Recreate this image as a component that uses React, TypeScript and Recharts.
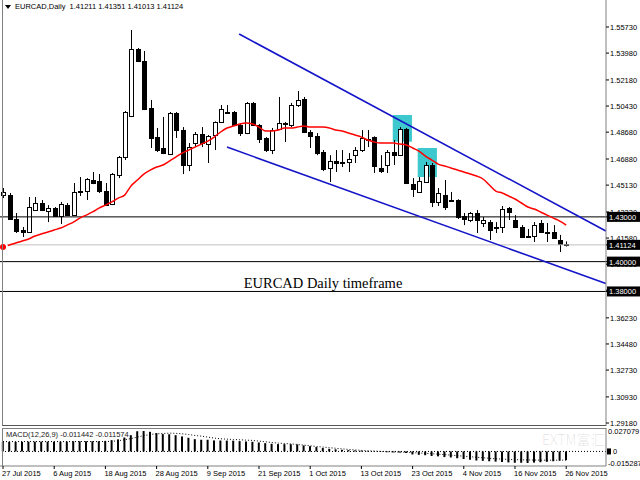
import React from 'react';
import {
  ComposedChart,
  Bar,
  Line,
  XAxis,
  YAxis,
  ReferenceLine,
  ReferenceArea,
  ReferenceDot
} from 'recharts';

const FONT = 'Tahoma, "Liberation Sans", Arial, sans-serif';

// EURCAD daily candles, 27 Jul 2015 .. 26 Nov 2015
const opens = [
  1.4446, 1.4446, 1.4286, 1.4212, 1.4199, 1.4346, 1.4393, 1.4339, 1.4359, 1.4306,
  1.4379, 1.4312, 1.4467, 1.4473, 1.4547, 1.454, 1.4473, 1.4386, 1.4581, 1.4701,
  1.4976, 1.5425, 1.5345, 1.503, 1.4835, 1.4762, 1.4721, 1.4996, 1.4882, 1.4648,
  1.4795, 1.4855, 1.4788, 1.4849, 1.4936, 1.5003, 1.5003, 1.4916, 1.4862, 1.5064,
  1.4916, 1.4829, 1.4748, 1.4889, 1.4929, 1.4916, 1.505, 1.509, 1.4869, 1.4842,
  1.4735, 1.4628, 1.4674, 1.4668, 1.4668, 1.4714, 1.4748, 1.4822, 1.4835, 1.4628,
  1.4648, 1.4735, 1.4714, 1.4889, 1.452, 1.4467, 1.4534, 1.4648, 1.44, 1.4446,
  1.4413, 1.4413, 1.4306, 1.4279, 1.4326, 1.4259, 1.4265, 1.4232, 1.4232, 1.4359,
  1.4279, 1.4232, 1.4172, 1.4172, 1.4259, 1.4199, 1.4199, 1.4145, 1.41211
];
const highs = [
  1.4493, 1.446, 1.4326, 1.4232, 1.4433, 1.4433, 1.4413, 1.4379, 1.4366, 1.44,
  1.4393, 1.4527, 1.4567, 1.456, 1.4601, 1.4587, 1.4527, 1.4594, 1.4708, 1.501,
  1.5553, 1.5432, 1.5412, 1.5084, 1.4896, 1.497, 1.5003, 1.5003, 1.4902, 1.4795,
  1.4869, 1.4902, 1.4849, 1.494, 1.505, 1.505, 1.501, 1.4929, 1.507, 1.507,
  1.4922, 1.4835, 1.4896, 1.5104, 1.4936, 1.5064, 1.5144, 1.5104, 1.4882, 1.4862,
  1.4748, 1.4714, 1.4748, 1.4748, 1.4728, 1.4768, 1.4882, 1.4882, 1.484, 1.4714,
  1.4748, 1.4815, 1.4902, 1.4896, 1.456, 1.4567, 1.4668, 1.4661, 1.4493, 1.4547,
  1.4467, 1.4418, 1.4326, 1.4333, 1.4346, 1.4299, 1.4279, 1.4265, 1.4373, 1.4366,
  1.4312, 1.4245, 1.4219, 1.4265, 1.4279, 1.4259, 1.4245, 1.4179, 1.41351
];
const lows = [
  1.4426, 1.4279, 1.4192, 1.4165, 1.4192, 1.4339, 1.4339, 1.4265, 1.4299, 1.4252,
  1.4306, 1.4306, 1.444, 1.4413, 1.452, 1.446, 1.4373, 1.4379, 1.456, 1.4681,
  1.4969, 1.5338, 1.5016, 1.4762, 1.4735, 1.4721, 1.4714, 1.4829, 1.4587, 1.4607,
  1.4768, 1.4768, 1.4661, 1.4748, 1.4929, 1.499, 1.4909, 1.4842, 1.4855, 1.4909,
  1.4795, 1.4735, 1.4721, 1.4882, 1.4802, 1.4902, 1.5037, 1.4862, 1.4762, 1.4714,
  1.4607, 1.4534, 1.4601, 1.4634, 1.4601, 1.4661, 1.4735, 1.4768, 1.4594, 1.4594,
  1.4594, 1.4648, 1.4708, 1.452, 1.4433, 1.446, 1.4527, 1.4366, 1.4373, 1.4346,
  1.44, 1.4286, 1.4245, 1.4265, 1.4192, 1.4232, 1.4145, 1.4192, 1.4192, 1.4279,
  1.4225, 1.4158, 1.4158, 1.4132, 1.4192, 1.4132, 1.4152, 1.4064, 1.41013
];
const closes = [
  1.4467, 1.4286, 1.4205, 1.4199, 1.4366, 1.4393, 1.4346, 1.4359, 1.4306, 1.4386,
  1.4312, 1.4467, 1.4473, 1.4554, 1.4527, 1.4473, 1.4379, 1.4587, 1.4701, 1.5004,
  1.5425, 1.5345, 1.5023, 1.4829, 1.4748, 1.4728, 1.4996, 1.4882, 1.4648, 1.4768,
  1.4855, 1.4795, 1.4842, 1.4936, 1.5023, 1.4996, 1.4916, 1.4862, 1.5064, 1.4916,
  1.4822, 1.4748, 1.4882, 1.4929, 1.4923, 1.505, 1.5084, 1.4869, 1.4842, 1.4728,
  1.4621, 1.4674, 1.4661, 1.4661, 1.4688, 1.4748, 1.4829, 1.4815, 1.4641, 1.4607,
  1.4735, 1.4714, 1.4889, 1.4527, 1.4487, 1.454, 1.4648, 1.44, 1.446, 1.4366,
  1.4406, 1.4299, 1.4286, 1.4326, 1.4279, 1.4279, 1.4212, 1.4225, 1.4353, 1.4333,
  1.4232, 1.4165, 1.4165, 1.4245, 1.4199, 1.4192, 1.4158, 1.4121, 1.41124
];
const movingAvg = [
  1.4098, 1.4111, 1.4125, 1.4138, 1.4152, 1.4172, 1.4185, 1.4199, 1.4212, 1.4225,
  1.4245, 1.4265, 1.4292, 1.4312, 1.4333, 1.4359, 1.4379, 1.44, 1.4426, 1.4446,
  1.4507, 1.4547, 1.4587, 1.4614, 1.4634, 1.4648, 1.4674, 1.4701, 1.4728, 1.4748,
  1.4768, 1.4788, 1.4808, 1.4835, 1.4869, 1.4896, 1.4909, 1.4923, 1.4929, 1.4923,
  1.4902, 1.4876, 1.4876, 1.4882, 1.4896, 1.4896, 1.4902, 1.4909, 1.4902, 1.4902,
  1.4902, 1.4896, 1.4882, 1.4876, 1.4862, 1.4849, 1.4835, 1.4815, 1.4802, 1.4795,
  1.4795, 1.4795, 1.4788, 1.4782, 1.4762, 1.4741, 1.4708, 1.4681, 1.4654, 1.4641,
  1.4628, 1.4614, 1.4601, 1.4587, 1.4574, 1.4554, 1.4514, 1.4473, 1.446, 1.444,
  1.442, 1.4393, 1.4366, 1.4353, 1.4333, 1.4312, 1.4292, 1.4272, 1.4245
];
const macdMain = [
  0.0128, 0.0128, 0.0128, 0.0128, 0.013, 0.013, 0.013, 0.013, 0.013, 0.013,
  0.013, 0.0135, 0.0135, 0.0135, 0.0135, 0.0135, 0.014, 0.015, 0.016, 0.0185,
  0.0216, 0.0268, 0.027079, 0.026, 0.0243, 0.023, 0.0228, 0.0216, 0.0199, 0.0181,
  0.0163, 0.0155, 0.0155, 0.0146, 0.0145, 0.0144, 0.0143, 0.0137, 0.0132, 0.0128,
  0.0119, 0.011, 0.0102, 0.0097, 0.0097, 0.0096, 0.0093, 0.008, 0.007, 0.0058,
  0.0045, 0.0035, 0.0028, 0.0022, 0.0018, 0.0014, 0.001, 0.0006, 0.0002, -0.0005,
  -0.001, -0.0013, -0.0015, -0.002, -0.004, -0.0045, -0.005, -0.006, -0.0065, -0.0075,
  -0.008, -0.009, -0.01, -0.011, -0.012, -0.0125, -0.013, -0.0135, -0.014, -0.0145,
  -0.015, -0.015, -0.015287, -0.0148, -0.0143, -0.0138, -0.013, -0.0122, -0.011442
];
const macdSignal = [
  0.0131, 0.0131, 0.0131, 0.0131, 0.0131, 0.0131, 0.0131, 0.0131, 0.0131, 0.0131,
  0.0131, 0.0131, 0.0131, 0.0131, 0.0131, 0.0131, 0.0132, 0.0134, 0.0142, 0.0155,
  0.017, 0.019, 0.021, 0.0225, 0.0234, 0.0238, 0.0243, 0.024, 0.0234, 0.0225,
  0.0212, 0.0203, 0.019, 0.0177, 0.0168, 0.0163, 0.0159, 0.0155, 0.015, 0.0146,
  0.0137, 0.0128, 0.0119, 0.011, 0.0105, 0.01, 0.0093, 0.0084, 0.0075, 0.0066,
  0.0058, 0.005, 0.0042, 0.0034, 0.0027, 0.002, 0.0014, 0.0009, 0.0005, 0.0001,
  -0.0003, -0.0006, -0.0009, -0.0012, -0.0016, -0.002, -0.0025, -0.003, -0.0036, -0.0042,
  -0.0049, -0.0056, -0.0063, -0.007, -0.0077, -0.0084, -0.0091, -0.0097, -0.0102, -0.0106,
  -0.0109, -0.0111, -0.0113, -0.0114, -0.0115, -0.0116, -0.0116, -0.0116, -0.011574
];

const priceTicks = [
  1.5573, 1.5398, 1.5218, 1.5043, 1.4868, 1.4688, 1.4513, 1.4333,
  1.4158, 1.3983, 1.3808, 1.3623, 1.3448, 1.3273, 1.3093, 1.2918
];
const macdTicks = [0.027079, 0, -0.015287];
const dateTicks = [0, 8, 16, 24, 32, 40, 48, 56, 64, 72, 80, 88];
const dateLabels = [
  '27 Jul 2015', '6 Aug 2015', '18 Aug 2015', '28 Aug 2015', '9 Sep 2015', '21 Sep 2015',
  '1 Oct 2015', '13 Oct 2015', '23 Oct 2015', '4 Nov 2015', '16 Nov 2015', '26 Nov 2015'
];

const levels = [
  { value: 1.43, color: '#000', text: '1.43000' },
  { value: 1.41124, color: '#c0c0c0', text: '1.41124' },
  { value: 1.4, color: '#000', text: '1.40000' },
  { value: 1.38, color: '#000', text: '1.38000' }
];
const channelUpper = [{ x: 36.9, y: 1.5526 }, { x: 94.2, y: 1.4205 }];
const channelLower = [{ x: 35, y: 1.4768 }, { x: 94.2, y: 1.3853 }];
const boxes = [
  { x1: 60.9, x2: 63.9, y1: 1.4804, y2: 1.4983 },
  { x1: 64.8, x2: 67.8, y1: 1.4567, y2: 1.4762 }
];

const xDomain = [-0.47, 94.22];
// level tags come last so they are painted over the normal price labels
const axisTicks = [...priceTicks, ...levels.map((l) => l.value)];

const rows = opens.map((o, i) => ({
  i,
  open: o,
  high: highs[i],
  low: lows[i],
  close: closes[i],
  ma: movingAvg[i],
  macd: macdMain[i],
  signal: macdSignal[i]
}));

function Candle(props: any) {
  const { x, y, width, height, payload } = props;
  if (!payload || payload.open == null) return null;
  const { open, high, low, close } = payload;
  const top = Math.min(y, y + height);
  const h = Math.abs(height);
  const span = high - low || 1;
  const py = (v: number) => top + ((high - v) / span) * h;
  const cx = Math.round(x + width / 2) + 0.5;
  const bodyTop = Math.round(py(Math.max(open, close))) + 0.5;
  const bodyBot = Math.round(py(Math.min(open, close))) + 0.5;
  const up = close >= open;
  return (
    <g>
      <line x1={cx} x2={cx} y1={top} y2={top + h} stroke='#000' strokeWidth={1} />
      <rect
        x={cx - 2}
        y={bodyTop}
        width={4}
        height={Math.max(bodyBot - bodyTop, 0.01)}
        fill={up ? '#fff' : '#000'}
        stroke='#000'
        strokeWidth={1}
      />
    </g>
  );
}

function PriceTick({ x, y, payload }: any) {
  const lvl = levels.find((l) => l.value === payload.value);
  if (lvl) {
    return (
      <g>
        <rect x={x - 3} y={y - 5} width={33} height={10} fill='#000' />
        <text x={x - 1} y={y + 3} fontSize={7.5} fill='#fff' fontFamily={FONT}>
          {lvl.text}
        </text>
      </g>
    );
  }
  return (
    <text x={x} y={y + 3} fontSize={7.5} fill='#000' fontFamily={FONT}>
      {payload.value.toFixed(5)}
    </text>
  );
}

function MacdTick({ x, y, payload }: any) {
  const v = payload.value;
  return (
    <text x={v === 0 ? x + 5 : x} y={y + 3} fontSize={7.5} fill='#000' fontFamily={FONT}>
      {v === 0 ? '0' : v.toFixed(6)}
    </text>
  );
}

function ZeroMark({ viewBox }: any) {
  if (!viewBox) return null;
  const x = viewBox.x + viewBox.width;
  return <rect x={x + 1} y={viewBox.y - 3} width={4} height={6} fill='#000' />;
}

function DateTick({ x, y, payload }: any) {
  const idx = dateTicks.indexOf(payload.value);
  return (
    <text x={x - 1} y={y + 7} fontSize={7.5} fill='#000' fontFamily={FONT}>
      {dateLabels[idx]}
    </text>
  );
}

function Caption({ cx, cy }: any) {
  return (
    <text
      x={cx}
      y={cy + 5}
      textAnchor='middle'
      fontSize={14.5}
      fill='#000'
      fontFamily='"Liberation Serif", "Times New Roman", serif'
    >
      EURCAD Daily timeframe
    </text>
  );
}

export default function App() {
  return (
    <div
      style={{
        position: 'absolute',
        left: 0,
        top: 0,
        width: 640,
        height: 480,
        background: '#fff',
        overflow: 'hidden'
      }}
    >
      <style>{'.mt-chart svg { overflow: visible; }'}</style>
      <div className='mt-chart' style={{ position: 'absolute', left: 0, top: 0, zIndex: 2 }}>
        <ComposedChart
          width={640}
          height={426}
          data={rows}
          margin={{ top: 0, right: 0, bottom: 0, left: 0 }}
        >
          <XAxis type='number' dataKey='i' domain={xDomain} allowDataOverflow hide />
          <YAxis
            orientation='right'
            width={34}
            domain={[1.2898, 1.5754]}
            allowDataOverflow
            ticks={axisTicks}
            interval={0}
            tick={<PriceTick />}
            tickSize={3}
            tickMargin={1}
            tickLine={{ stroke: '#000' }}
            axisLine={{ stroke: '#808080' }}
          />
          {boxes.map((b, k) => (
            <ReferenceArea
              key={'box' + k}
              x1={b.x1}
              x2={b.x2}
              y1={b.y1}
              y2={b.y2}
              fill='#3cc8cc'
              fillOpacity={1}
              stroke='none'
            />
          ))}
          {levels.map((l) => (
            <ReferenceLine key={l.text} y={l.value} stroke={l.color} strokeWidth={1} />
          ))}
          <ReferenceLine segment={channelUpper} stroke='#1414c8' strokeWidth={1.6} />
          <ReferenceLine segment={channelLower} stroke='#1414c8' strokeWidth={1.6} />
          <Bar
            dataKey={(d: any) => [d.low, d.high]}
            barSize={5}
            shape={(p: any) => <Candle {...p} />}
            isAnimationActive={false}
          />
          <Line
            type='monotone'
            dataKey='ma'
            stroke='#ff0000'
            strokeWidth={1.5}
            dot={false}
            isAnimationActive={false}
          />
          <ReferenceDot x={50} y={1.3857} r={0} shape={(p: any) => <Caption {...p} />} />
        </ComposedChart>
      </div>

      <div className='mt-chart' style={{ position: 'absolute', left: 0, top: 427, zIndex: 1 }}>
        <ComposedChart
          width={640}
          height={53}
          data={rows}
          margin={{ top: 1, right: 0, bottom: 0, left: 0 }}
        >
          <XAxis
            type='number'
            dataKey='i'
            domain={xDomain}
            allowDataOverflow
            ticks={dateTicks}
            interval={0}
            height={14}
            tickSize={3}
            tickMargin={0}
            tick={<DateTick />}
            tickLine={{ stroke: '#000' }}
            axisLine={{ stroke: '#808080' }}
          />
          <YAxis
            orientation='right'
            width={34}
            domain={[-0.0193, 0.0311]}
            allowDataOverflow
            ticks={macdTicks}
            interval={0}
            tick={<MacdTick />}
            tickSize={0}
            tickMargin={2}
            axisLine={{ stroke: '#808080' }}
          />
          <ReferenceLine y={0} stroke='#000' strokeDasharray='1 2' label={<ZeroMark />} />
          <Bar dataKey='macd' barSize={2} fill='#000' isAnimationActive={false} />
          <Line
            type='linear'
            dataKey='signal'
            stroke='#000'
            strokeWidth={1}
            strokeDasharray='1 2'
            dot={false}
            isAnimationActive={false}
          />
        </ComposedChart>
      </div>

      {/* panel frames */}
      <div
        style={{
          position: 'absolute',
          left: 2,
          top: 0,
          width: 604,
          height: 426,
          boxSizing: 'border-box',
          borderLeft: '1px solid #808080',
          borderBottom: '1px solid #555',
          pointerEvents: 'none',
          zIndex: 3
        }}
      />
      <div
        style={{
          position: 'absolute',
          left: 2,
          top: 428,
          width: 604,
          height: 38,
          boxSizing: 'border-box',
          borderLeft: '1px solid #808080',
          borderTop: '1px solid #808080',
          pointerEvents: 'none',
          zIndex: 3
        }}
      />

      <div
        style={{
          position: 'absolute',
          left: 5,
          top: 2,
          fontFamily: FONT,
          fontSize: 7.5,
          color: '#000',
          whiteSpace: 'nowrap',
          lineHeight: '10px',
          zIndex: 4
        }}
      >
        <svg width={6} height={5} style={{ marginRight: 4, verticalAlign: 'middle' }}>
          <polygon points='0,0 6,0 3,4' fill='#000' />
        </svg>
        EURCAD,Daily&nbsp;&nbsp;1.41211 1.41351 1.41013 1.41124
      </div>
      <div
        style={{
          position: 'absolute',
          left: 6,
          top: 430,
          fontFamily: FONT,
          fontSize: 7.5,
          color: '#222',
          whiteSpace: 'nowrap',
          lineHeight: '10px',
          zIndex: 4
        }}
      >
        MACD(12,26,9) -0.011442 -0.011574
      </div>
      <div
        style={{
          position: 'absolute',
          left: 542,
          top: 430,
          fontFamily: '"Noto Sans CJK SC", "Noto Sans", sans-serif',
          fontSize: 14,
          fontWeight: 300,
          lineHeight: '18px',
          color: 'rgba(0,0,0,0.13)',
          whiteSpace: 'nowrap',
          pointerEvents: 'none',
          zIndex: 4
        }}
      >
        EXTM富汇
      </div>
    </div>
  );
}
